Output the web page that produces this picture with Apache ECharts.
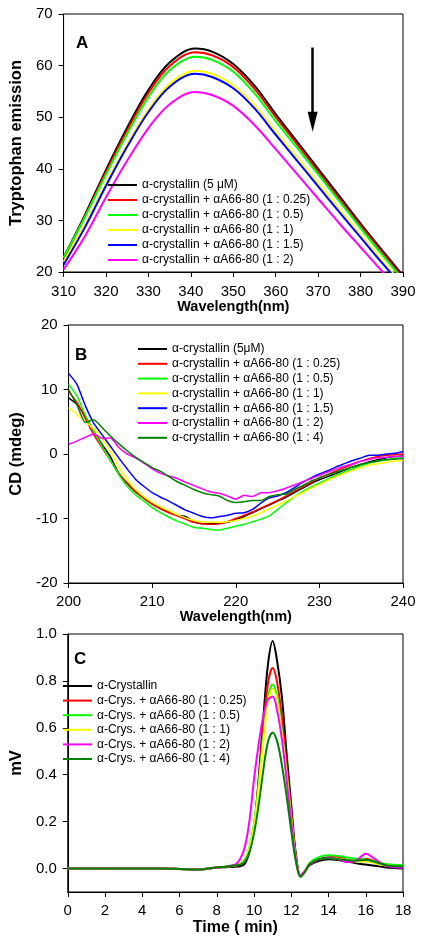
<!DOCTYPE html>
<html><head><meta charset="utf-8">
<script src="https://cdn.jsdelivr.net/npm/echarts@6/dist/echarts.min.js"></script>
<style>html,body{margin:0;padding:0;background:#fff}#c{width:424px;height:946px}</style>
</head><body><div id="c"></div>
<script>
// ---------- Panel A : tryptophan emission ----------
const wlA = [310,315,320,325,330,335,341,345,350,355,360,365,370,375,380,385,390];
const namesA = ['α-crystallin (5 μM)','α-crystallin + αA66-80 (1 : 0.25)','α-crystallin + αA66-80 (1 : 0.5)','α-crystallin + αA66-80 (1 : 1)','α-crystallin + αA66-80 (1 : 1.5)','α-crystallin + αA66-80 (1 : 2)'];
const a_ctrl = [22.8,31.0,39.8,48.0,55.3,60.6,63.3,62.7,60.3,56.1,50.6,45.3,40.0,34.7,29.4,24.3,19.3];
const a_025  = [22.6,30.7,39.4,47.5,54.7,59.9,62.6,62.0,59.7,55.5,50.0,44.8,39.5,34.2,29.0,23.9,18.9];
const a_05   = [22.8,30.6,38.9,46.8,53.9,59.1,61.7,61.1,58.8,54.6,49.2,44.1,38.9,33.7,28.5,23.4,18.5];
const a_1    = [22.0,29.0,37.1,44.7,51.5,56.5,59.0,58.4,56.2,52.3,47.2,42.2,37.2,32.2,27.2,22.3,17.6];
const a_15   = [21.4,28.6,36.7,44.3,51.0,55.9,58.4,57.8,55.6,51.7,46.6,41.6,36.6,31.6,26.7,21.8,17.2];
const a_2    = [20.5,26.9,34.5,41.6,47.9,52.5,54.9,54.3,52.2,48.5,43.8,39.0,34.2,29.4,24.8,20.2,15.8];
const arrowX = 368.7, arrowTop = 63.5, arrowShaftEnd = 50.5, arrowHead = 49.1;

// ---------- Panel B : CD ----------
const wlB = [200,201,202,203,204,205,206,207,208,209,210,211,212,213,214,215,216,217,218,219,220,221,222,223,224,225,226,227,228,229,230,231,232,233,234,235,236,237,238,239,240];
const namesB = ['α-crystallin (5μM)','α-crystallin + αA66-80 (1 : 0.25)','α-crystallin + αA66-80 (1 : 0.5)','α-crystallin + αA66-80 (1 : 1)','α-crystallin + αA66-80 (1 : 1.5)','α-crystallin + αA66-80 (1 : 2)','α-crystallin + αA66-80 (1 : 4)'];
const b_ctrl = [8.7,7.7,5.8,3.5,1.5,-0.4,-3.0,-4.5,-5.8,-6.8,-7.7,-8.4,-9.0,-9.5,-9.7,-10.5,-10.8,-10.8,-10.7,-10.6,-10.2,-9.7,-9.1,-8.5,-7.9,-7.3,-6.7,-6.0,-5.3,-4.6,-4.0,-3.5,-3.0,-2.5,-2.0,-1.6,-1.2,-0.9,-0.6,-0.4,-0.3];
const b_025  = [9.7,8.0,5.5,3.0,1.0,-1.0,-3.0,-4.6,-5.9,-6.9,-7.8,-8.5,-9.1,-9.6,-10.1,-10.6,-10.8,-10.9,-10.8,-10.5,-10.0,-9.5,-9.0,-8.4,-7.8,-7.2,-6.5,-5.8,-5.1,-4.4,-3.7,-3.2,-2.6,-2.1,-1.6,-1.1,-0.7,-0.4,-0.2,-0.1,0.0];
const b_05   = [10.8,9.0,6.0,3.5,1.2,-1.0,-3.2,-5.0,-6.3,-7.3,-8.3,-9.1,-9.8,-10.4,-10.9,-11.4,-11.5,-11.7,-11.8,-11.5,-11.2,-10.9,-10.5,-10.1,-9.6,-8.6,-7.6,-6.6,-5.8,-5.1,-4.5,-3.9,-3.3,-2.8,-2.3,-1.8,-1.4,-1.1,-0.9,-0.7,-0.6];
const b_1    = [7.2,6.1,5.0,3.9,2.4,0.4,-2.0,-4.0,-5.5,-6.6,-7.5,-8.2,-8.8,-9.4,-9.9,-10.3,-10.5,-10.6,-10.6,-10.5,-10.3,-10.0,-9.6,-9.1,-8.5,-7.9,-7.3,-6.6,-6.0,-5.3,-4.7,-4.1,-3.5,-3.0,-2.5,-2.1,-1.7,-1.5,-1.3,-1.1,-1.0];
const b_15   = [12.5,10.8,7.5,4.8,3.0,1.2,-0.6,-2.3,-3.9,-5.0,-6.0,-6.7,-7.3,-8.0,-8.7,-9.2,-9.7,-9.9,-9.7,-9.5,-9.2,-9.1,-8.6,-7.6,-6.8,-6.5,-6.0,-5.2,-4.4,-3.7,-3.1,-2.6,-2.0,-1.5,-1.0,-0.6,-0.2,-0.2,0.0,0.1,0.4];
const b_2    = [1.5,2.0,2.6,3.1,2.4,2.5,1.0,0.0,-0.6,-1.4,-2.3,-3.0,-3.4,-3.8,-4.4,-4.9,-5.4,-5.9,-6.1,-6.5,-7.0,-6.4,-6.6,-6.0,-6.0,-5.7,-5.3,-4.8,-4.3,-3.8,-3.3,-2.8,-2.3,-1.9,-1.5,-1.1,-0.8,-0.6,-0.5,-0.4,-0.4];
const b_4    = [10.0,7.6,4.9,5.3,4.1,2.8,1.6,0.5,-0.5,-1.3,-2.1,-2.7,-3.5,-4.3,-4.9,-5.5,-6.0,-6.3,-6.5,-7.2,-7.5,-7.4,-7.2,-7.2,-6.6,-6.3,-6.2,-5.5,-4.9,-4.2,-3.7,-3.2,-2.8,-2.4,-2.0,-1.6,-1.3,-1.1,-0.9,-0.8,-0.7];

// ---------- Panel C : chromatography ----------
const tC = [0,1,2,3,4,5,6,7,7.5,8,8.5,9,9.25,9.5,9.75,10,10.25,10.5,10.75,11,11.25,11.5,11.75,12,12.25,12.5,12.75,13,13.5,14,14.5,15,15.5,16,16.5,17,17.5,18];
const namesC = ['α-Crystallin','α-Crys. + αA66-80 (1 : 0.25)','α-Crys. + αA66-80 (1 : 0.5)','α-Crys. + αA66-80 (1 : 1)','α-Crys. + αA66-80 (1 : 2)','α-Crys. + αA66-80 (1 : 4)'];
const c_ctrl = [0,0,0,0,0,0,-0.002,-0.005,-0.002,0.004,0.006,0.008,0.01,0.02,0.07,0.17,0.38,0.64,0.87,0.97,0.88,0.73,0.49,0.27,0.06,-0.03,-0.01,0.015,0.033,0.04,0.036,0.03,0.022,0.017,0.012,0.006,0.002,0.0];
const c_025  = [0,0.002,0,0,0,0,-0.002,-0.004,0,0.005,0.008,0.012,0.018,0.03,0.08,0.18,0.37,0.6,0.79,0.855,0.79,0.64,0.44,0.24,0.05,-0.03,-0.008,0.02,0.04,0.048,0.05,0.036,0.032,0.042,0.03,0.015,0.008,0.006];
const c_05   = [0,0,0,0,0,0,-0.002,-0.004,0,0.005,0.009,0.015,0.022,0.038,0.09,0.19,0.36,0.56,0.73,0.785,0.73,0.59,0.41,0.22,0.04,-0.035,-0.01,0.025,0.05,0.057,0.054,0.047,0.042,0.038,0.03,0.02,0.016,0.014];
const c_1    = [0,0,0,0,0,0,-0.002,-0.004,0,0.005,0.008,0.013,0.02,0.033,0.085,0.18,0.34,0.54,0.71,0.765,0.71,0.57,0.40,0.21,0.04,-0.03,-0.01,0.02,0.04,0.045,0.042,0.035,0.03,0.03,0.022,0.014,0.01,0.008];
const c_2    = [0,0,0,0,0,0,-0.002,-0.004,0,0.004,0.008,0.018,0.04,0.09,0.2,0.38,0.53,0.65,0.72,0.733,0.67,0.55,0.38,0.2,0.04,-0.03,-0.01,0.018,0.04,0.046,0.04,0.028,0.035,0.063,0.04,0.015,0.006,0.004];
const c_4    = [0,0,0,0,0,0,-0.002,-0.004,0,0.005,0.008,0.013,0.016,0.03,0.07,0.15,0.27,0.42,0.54,0.58,0.54,0.44,0.31,0.16,0.03,-0.035,-0.012,0.02,0.04,0.044,0.04,0.036,0.034,0.036,0.028,0.016,0.01,0.01];
const cTicks = [0,0.2,0.4,0.6,0.8,1.0];

const FONT = 'Liberation Sans, Arial, sans-serif';
const pair = (xs, ys) => xs.map((x, i) => [x, ys[i]]);

function xAx(grid, min, max, interval, name, nameSize, nameGap, margin) {
  return {
    gridIndex: grid, type: 'value', min: min, max: max, interval: interval,
    axisLine: {show: true, onZero: false, lineStyle: {color: '#000', width: 1}},
    axisTick: {show: true, length: 5, lineStyle: {color: '#000'}},
    axisLabel: {fontSize: 15, color: '#000', fontFamily: FONT, margin: margin},
    splitLine: {show: false},
    name: name, nameLocation: 'middle', nameGap: nameGap,
    nameTextStyle: {fontSize: nameSize, fontWeight: 'bold', color: '#000', fontFamily: FONT}
  };
}
function yAx(grid, min, max, interval, name, nameGap, extra) {
  const o = {
    gridIndex: grid, type: 'value', min: min, max: max, interval: interval,
    axisLine: {show: true, onZero: false, lineStyle: {color: '#000', width: 1}},
    axisTick: {show: true, length: 5, lineStyle: {color: '#000'}},
    axisLabel: {fontSize: 15, color: '#000', fontFamily: FONT, margin: 11},
    splitLine: {show: false},
    name: name, nameLocation: 'middle', nameGap: nameGap,
    nameTextStyle: {fontSize: 16.5, fontWeight: 'bold', color: '#000', fontFamily: FONT}
  };
  if (extra) extra(o);
  return o;
}
function line(name, xi, yi, xs, ys, color, width, extra) {
  const s = {
    name: name, type: 'line', xAxisIndex: xi, yAxisIndex: yi,
    data: pair(xs, ys), symbol: 'none', smooth: 0.35,
    lineStyle: {color: color, width: width}, itemStyle: {color: color},
    emphasis: {disabled: true}, clip: true
  };
  if (extra) Object.assign(s, extra);
  return s;
}
function legend(names, left, top, gap) {
  return {
    data: names.map(n => ({name: n, icon: 'rect'})), orient: 'vertical', left: left, top: top, padding: 0,
    itemWidth: 29, itemHeight: 2, itemGap: gap, selectedMode: false,
    textStyle: {fontSize: 12, lineHeight: 12, color: '#000', fontFamily: FONT}
  };
}

const colA = ['#000000','#ff0000','#00ff00','#ffff00','#0000ff','#ff00ff'];
const colB = ['#000000','#ff0000','#00ff00','#ffff00','#0000ff','#ff00ff','#008000'];
const colC = ['#000000','#ff0000','#00ff00','#ffff00','#ff00ff','#008000'];
const dataA = [a_ctrl, a_025, a_05, a_1, a_15, a_2];
const dataB = [b_ctrl, b_025, b_05, b_1, b_15, b_2, b_4];
const dataC = [c_ctrl, c_025, c_05, c_1, c_2, c_4];

const series = [];
dataA.forEach((d, i) => series.push(line(namesA[i], 0, 0, wlA, d, colA[i], 2)));
series[0].markLine = {
  silent: true, symbol: ['none', 'none'], label: {show: false},
  lineStyle: {color: '#000', width: 2.5, type: 'solid'},
  data: [[{coord: [arrowX, arrowTop]}, {coord: [arrowX, arrowShaftEnd]}]]
};
series[0].markPoint = {
  silent: true, symbol: 'triangle', symbolSize: [10, 20], symbolRotate: 180,
  itemStyle: {color: '#000'}, label: {show: false},
  data: [{coord: [arrowX, arrowHead]}]
};
dataB.forEach((d, i) => series.push(line(namesB[i], 1, 1, wlB, d, colB[i], 1.5, {smooth: 0.2})));
dataC.forEach((d, i) => series.push(line(namesC[i], 2, 2, tC, d, colC[i], 2)));

const chart = echarts.init(document.getElementById('c'), null, {renderer: 'canvas'});
chart.setOption({
  animation: false,
  backgroundColor: '#fff',
  textStyle: {fontFamily: FONT},
  grid: [
    {left: 59, width: 344, top: 14, height: 258, show: true, borderColor: '#000', borderWidth: 1},
    {left: 59, width: 344, top: 325, height: 258, show: true, borderColor: '#000', borderWidth: 1},
    {left: 59, width: 344, top: 634, height: 258, show: true, borderColor: '#000', borderWidth: 1}
  ],
  xAxis: [
    xAx(0, 310, 390, 10, 'Wavelength(nm)', 14.5, 26, 12),
    xAx(1, 200, 240, 10, 'Wavelength(nm)', 14.5, 26, 11),
    xAx(2, 0, 18, 2, 'Time ( min)', 16, 28, 11)
  ],
  yAxis: [
    yAx(0, 20, 70, 10, 'Tryptophan emission', 34),
    yAx(1, -20, 20, 10, 'CD (mdeg)', 35),
    yAx(2, -0.1, 1.0, null, 'mV', 36, o => {
      delete o.interval;
      o.axisLabel.customValues = cTicks;
      o.axisLabel.formatter = v => v.toFixed(1);
      o.axisTick.customValues = cTicks;
    })
  ],
  legend: [
    legend(namesA, 108, 179, 3),
    legend(namesB, 138, 343, 2.8),
    legend(namesC, 63, 680, 2.6)
  ],
  graphic: [
    {type: 'text', left: 76, top: 35, style: {text: 'A', font: 'bold 17px ' + FONT, fill: '#000'}},
    {type: 'text', left: 75, top: 347, style: {text: 'B', font: 'bold 17px ' + FONT, fill: '#000'}},
    {type: 'text', left: 74, top: 651, style: {text: 'C', font: 'bold 17px ' + FONT, fill: '#000'}}
  ],
  series: series
});
</script>
</body></html>
